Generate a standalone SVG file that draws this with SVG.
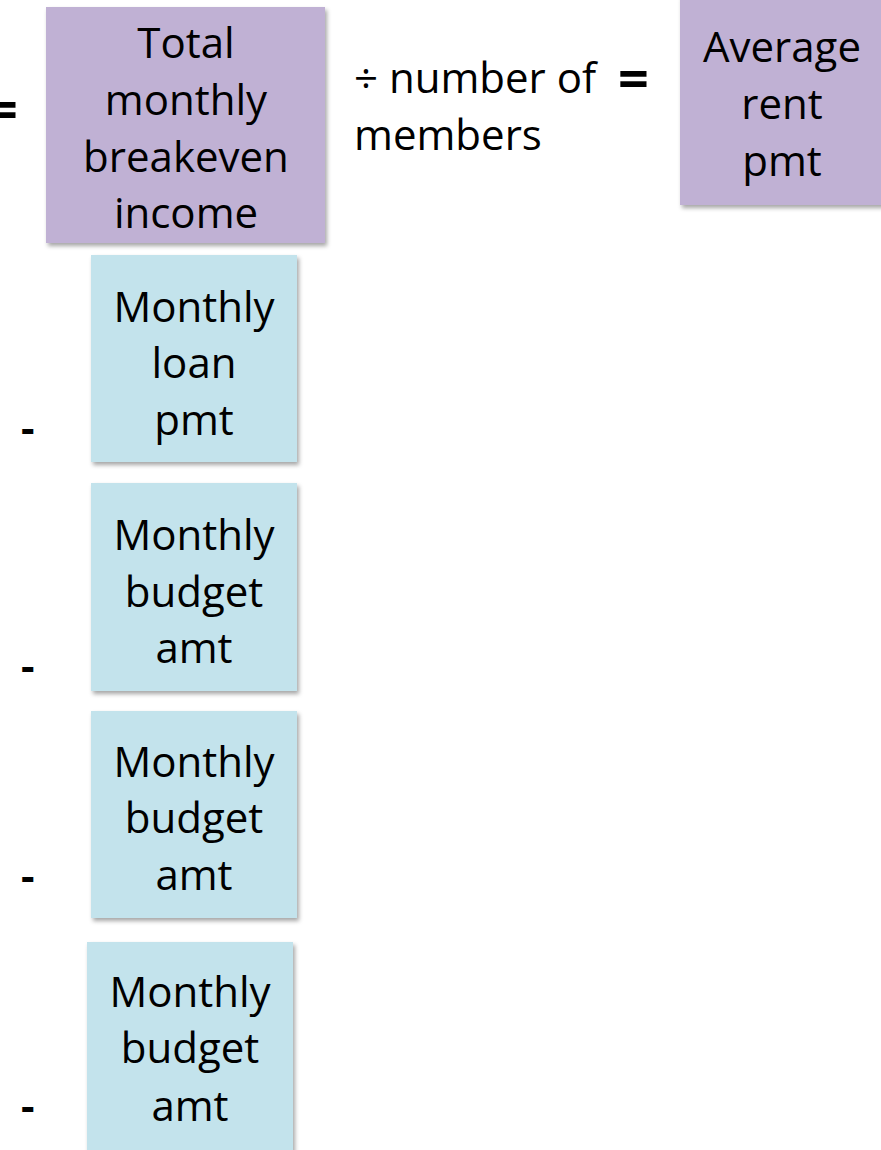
<svg xmlns="http://www.w3.org/2000/svg" width="881" height="1150" viewBox="0 0 881 1150">
<style>
.t{font-family:"Open Sans","Liberation Sans",sans-serif;font-size:42px;fill:#000;}
.c{text-anchor:middle;}
.op{font-weight:bold;}
.eq{font-size:54px;}
.p{fill:#C0B1D4;}
.b{fill:#C3E3EC;}
</style>
<defs>
<filter id="sh" x="-10%" y="-10%" width="130%" height="130%">
<feDropShadow dx="2" dy="3" stdDeviation="2" flood-color="#000" flood-opacity="0.35"/>
</filter>
</defs>
<rect width="881" height="1150" fill="#fff"/>
<g id="connectors">
<text class="t op eq" x="-13" y="129">=</text>
<text class="t" x="354" y="93">÷ number of</text>
<text class="t" x="354" y="150">members</text>
<text class="t op eq" x="618" y="98">=</text>
<text class="t op" x="21" y="443">-</text>
<text class="t op" x="21" y="681">-</text>
<text class="t op" x="21" y="891">-</text>
<text class="t op" x="21" y="1121">-</text>
</g>
<g id="total">
<rect class="p" x="46" y="7" width="279" height="236" filter="url(#sh)"/>
<text class="t c" x="186" y="58">Total</text>
<text class="t c" x="186" y="115">monthly</text>
<text class="t c" x="186" y="172">breakeven</text>
<text class="t c" x="186" y="228">income</text>
</g>
<g id="average">
<rect class="p" x="680" y="-5" width="210" height="210" filter="url(#sh)"/>
<text class="t c" x="782" y="62">Average</text>
<text class="t c" x="782" y="119">rent</text>
<text class="t c" x="782" y="176">pmt</text>
</g>
<g id="loan">
<rect class="b" x="91" y="255" width="206" height="207" filter="url(#sh)"/>
<text class="t c" x="194" y="322">Monthly</text>
<text class="t c" x="194" y="378">loan</text>
<text class="t c" x="194" y="435">pmt</text>
</g>
<g id="budget1">
<rect class="b" x="91" y="483" width="206" height="208" filter="url(#sh)"/>
<text class="t c" x="194" y="550">Monthly</text>
<text class="t c" x="194" y="607">budget</text>
<text class="t c" x="194" y="663">amt</text>
</g>
<g id="budget2">
<rect class="b" x="91" y="711" width="206" height="207" filter="url(#sh)"/>
<text class="t c" x="194" y="777">Monthly</text>
<text class="t c" x="194" y="833">budget</text>
<text class="t c" x="194" y="890">amt</text>
</g>
<g id="budget3">
<rect class="b" x="87" y="942" width="206" height="220" filter="url(#sh)"/>
<text class="t c" x="190" y="1007">Monthly</text>
<text class="t c" x="190" y="1063">budget</text>
<text class="t c" x="190" y="1121">amt</text>
</g>
</svg>
